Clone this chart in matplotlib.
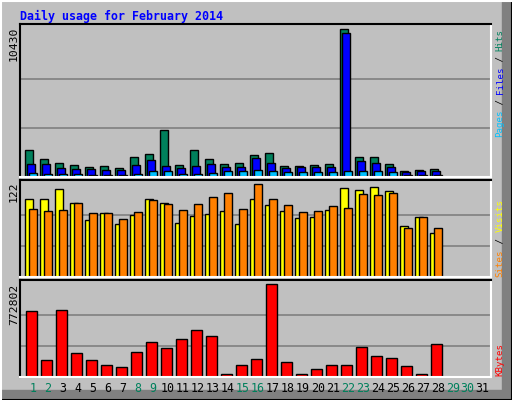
import matplotlib
matplotlib.use("Agg")
import matplotlib.pyplot as plt
from matplotlib.patches import Rectangle
from matplotlib.lines import Line2D

days = list(range(1, 32))
weekend = [1, 2, 8, 9, 15, 16, 22, 23, 29, 30]
hits = [1888, 1298, 1015, 873, 732, 802, 661, 1440, 1652, 3351, 873, 1888, 1298, 944,
        1015, 1581, 1723, 802, 802, 873, 944, 10430, 1440, 1440, 944, 448, 519, 590, 0, 0, 0]
files = [944, 944, 661, 590, 590, 519, 519, 873, 1227, 802, 661, 802, 944, 732,
         732, 1369, 1015, 661, 732, 732, 732, 10148, 1156, 1015, 732, 378, 448, 448, 0, 0, 0]
pages = [307, 236, 236, 236, 165, 165, 165, 236, 448, 448, 236, 236, 307, 448,
         448, 519, 448, 378, 378, 378, 378, 448, 448, 448, 378, 165, 165, 165, 0, 0, 0]
visits = [103, 103, 116, 98, 75, 84, 70, 82, 103, 98, 71, 80, 83, 87, 70, 103, 95, 87,
          78, 79, 88, 117, 115, 119, 113, 67, 79, 58, 0, 0, 0]
sites = [90, 87, 88, 98, 84, 84, 76, 85, 101, 96, 88, 96, 105, 110, 90, 122, 103, 95,
         85, 87, 93, 91, 109, 108, 111, 64, 79, 64, 0, 0, 0]
kbytes = [545000, 140000, 554000, 200000, 140000, 98000, 81000, 208000, 292000, 242000,
          318000, 393000, 343000, 22000, 98000, 149000, 772802, 124000, 22000, 65000,
          98000, 98000, 250000, 174000, 157000, 90000, 22000, 275000, 0, 0, 0]
max_hits, max_visits, max_kb = 10430, 122, 772802

W, H = 512, 400
fig = plt.figure(figsize=(W / 100, H / 100), dpi=100)
fig.patch.set_facecolor("#C0C0C0")
mono = "DejaVu Sans Mono"

def px(x, y):
    return x / W, 1 - y / H

# outer bevel
fig.add_artist(Line2D([0, 1], [1 - 1 / H, 1 - 1 / H], color="white", lw=1.5, transform=fig.transFigure))
fig.add_artist(Line2D([1 / W, 1 / W], [0, 1], color="white", lw=1.5, transform=fig.transFigure))
fig.add_artist(Rectangle((1 - 10 / W, 0), 10 / W, 1, color="#808080", transform=fig.transFigure))
fig.add_artist(Rectangle((0, 0), 1, 10 / H, color="#808080", transform=fig.transFigure))
fig.add_artist(Rectangle((0, 0), 1, 1, fill=False, ec="black", lw=1.5, transform=fig.transFigure))

x0, x1 = 20, 490.7
xl = (1 - 12.7 / 15, 1 + (x1 - 32.7) / 15)

def make_ax(top, bot, ymax_val, maxpix_top):
    ax = fig.add_axes([x0 / W, 1 - bot / H, (x1 - x0) / W, (bot - top) / H])
    ax.set_facecolor("#C0C0C0")
    ax.set_xlim(*xl)
    bar_bottom = bot - 0.3
    ax.set_ylim(0, ymax_val * (bar_bottom - top) / (bar_bottom - maxpix_top))
    for g in (ymax_val / 3, 2 * ymax_val / 3):
        ax.axhline(g, color="#808080", lw=1.2, zorder=0)
    ax.set_xticks([]); ax.set_yticks([])
    for s in ("left", "top"):
        ax.spines[s].set_color("black")
    for s in ("right", "bottom"):
        ax.spines[s].set_color("white")
    for s in ax.spines.values():
        s.set_linewidth(1.5)
    return ax

ax1 = make_ax(24, 177, max_hits, 29.3)
ax2 = make_ax(180, 277, max_visits, 184.3)
ax3 = make_ax(280, 377, max_kb, 284)

ek = dict(edgecolor="black", linewidth=1, align="edge")
ax1.bar([d - 0.51 for d in days], hits, 0.51, color="#00805C", **ek)
ax1.bar([d - 0.40 for d in days], files, 0.55, color="#0000FF", **ek)
ax1.bar([d - 0.23 for d in days], pages, 0.49, color="#00C0FF", **ek)
ax2.bar([d - 0.51 for d in days], visits, 0.55, color="#FFFF00", **ek)
ax2.bar([d - 0.25 for d in days], sites, 0.51, color="#FF8000", **ek)
ax3.bar([d - 0.45 for d in days], kbytes, 0.71, color="#FF0000", **ek)

fig.text(*px(20, 16), "Daily usage for February 2014", family=mono, weight="bold",
         size=8.4, color="#0000FF", ha="left", va="center")

for val, ytop in ((max_hits, 27), (max_visits, 181), (max_kb, 284)):
    fig.text(*px(14, ytop), str(val), family=mono, size=8.2, rotation=90,
             ha="center", va="top", color="black")

for d in days:
    fig.text(*px(32.7 + 15 * (d - 1), 388), str(d), family=mono, size=8.4,
             ha="center", va="center", color="#00805C" if d in weekend else "black")

def right_label(parts, ybottom, step):
    y = ybottom
    for txt, col in parts:
        fig.text(*px(500, y), txt, family=mono, size=6.6, rotation=90,
                 ha="center", va="bottom", color=col)
        y -= step * len(txt)

right_label([("Pages", "#00C0FF"), (" / ", "black"), ("Files", "#0000FF"),
             (" / ", "black"), ("Hits", "#00805C")], 137, 5.4)
right_label([("Sites", "#FF8000"), (" / ", "black"), ("Visits", "#FFFF00")], 277, 5.6)
right_label([("KBytes", "#FF0000")], 376, 6.0)

fig.savefig("out.png", dpi=100, facecolor=fig.get_facecolor())
